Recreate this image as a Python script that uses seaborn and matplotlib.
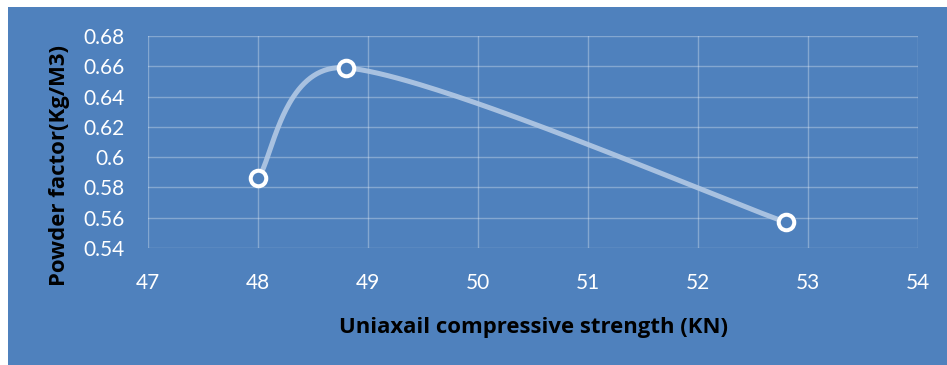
import numpy as np
import pandas as pd
import matplotlib
matplotlib.use("Agg")
import matplotlib.pyplot as plt
from matplotlib.patches import Rectangle
import seaborn as sns

# Measured data
ucs_kn = [48.0, 48.8, 52.8]
powder_factor = [0.586, 0.659, 0.557]
x_ticks = [47, 48, 49, 50, 51, 52, 53, 54]
y_ticks = [0.54, 0.56, 0.58, 0.60, 0.62, 0.64, 0.66, 0.68]
y_tick_labels = ["0.54", "0.56", "0.58", "0.6", "0.62", "0.64", "0.66", "0.68"]

BG = "#4F81BD"
LINE = "#B3C9E4"

sns.set_theme(style="white")
plt.rcParams["font.family"] = ["Lato", "DejaVu Sans"]

W, H = 947, 365
fig = plt.figure(figsize=(W / 100, H / 100), dpi=100, facecolor="white")
fig.patches.append(Rectangle((8 / W, 0), 1, 1 - 7 / H, transform=fig.transFigure,
                             facecolor=BG, edgecolor="none", zorder=-10))

# plot area in pixels
L, R, T, B = 148, 918, 36, 248
ax = fig.add_axes([L / W, (H - B) / H, (R - L) / W, (B - T) / H])
ax.set_facecolor("none")
ax.set_xlim(x_ticks[0], x_ticks[-1])
ax.set_ylim(y_ticks[0], y_ticks[-1])


def smoothed(xs, ys, sx, sy, n=80):
    """Cubic Bezier smoothing through the points, with tangents along the
    neighbour chord, limited by the length of the adjacent segment."""
    P = np.column_stack([np.asarray(xs) * sx, np.asarray(ys) * sy])
    m = len(P)

    def tangent(i):
        a = P[max(i - 1, 0)]
        b = P[min(i + 1, m - 1)]
        return (b - a) / 6

    out = []
    for i in range(m - 1):
        seg_len = np.linalg.norm(P[i + 1] - P[i])
        t0, t1 = tangent(i), tangent(i + 1)
        for tv in (t0, t1):
            nrm = np.linalg.norm(tv)
            lim = 0.45 * seg_len
            if nrm > lim:
                tv *= lim / nrm
        c1 = P[i] + t0
        c2 = P[i + 1] - t1
        t = np.linspace(0, 1, n)[:, None]
        seg = ((1 - t) ** 3) * P[i] + 3 * ((1 - t) ** 2) * t * c1 \
            + 3 * (1 - t) * t ** 2 * c2 + t ** 3 * P[i + 1]
        out.append(seg if i == 0 else seg[1:])
    pts = np.vstack(out)
    return pts[:, 0] / sx, pts[:, 1] / sy


sx = (R - L) / (x_ticks[-1] - x_ticks[0])
sy = (B - T) / (y_ticks[-1] - y_ticks[0])
cx, cy = smoothed(ucs_kn, powder_factor, sx, sy)
curve = pd.DataFrame({"x": cx, "y": cy})
pts = pd.DataFrame({"ucs": ucs_kn, "pf": powder_factor})

sns.lineplot(data=curve, x="x", y="y", sort=False, estimator=None, ax=ax,
             color=LINE, linewidth=3.6, alpha=0.9, zorder=3)
sns.scatterplot(data=pts, x="ucs", y="pf", ax=ax, s=125, marker="o",
                facecolor=BG, edgecolor="white", linewidth=2.9, zorder=4)

ax.set_xticks(x_ticks)
ax.set_xticklabels([str(v) for v in x_ticks])
ax.set_yticks(y_ticks)
ax.set_yticklabels(y_tick_labels)
ax.grid(True, color="white", alpha=0.3, linewidth=1.0)
for s in ax.spines.values():
    s.set_visible(False)
ax.tick_params(axis="both", length=0, colors="white", labelsize=15)
ax.tick_params(axis="x", pad=18)
ax.tick_params(axis="y", pad=17)

label_font = dict(fontsize=15.9, fontweight="bold", color="black",
                  family=["Open Sans", "DejaVu Sans"])
ax.set_xlabel("Uniaxail compressive strength (KN)", **label_font)
ax.set_ylabel("Powder factor(Kg/M3)", **label_font)
ax.xaxis.label.set_va("center")
ax.yaxis.label.set_va("center")
ax.xaxis.set_label_coords((533 - L) / (R - L), (B - 328) / (B - T))
ax.yaxis.set_label_coords((60 - L) / (R - L), (B - 166) / (B - T))

fig.savefig("out.png", dpi=100, facecolor="white")
